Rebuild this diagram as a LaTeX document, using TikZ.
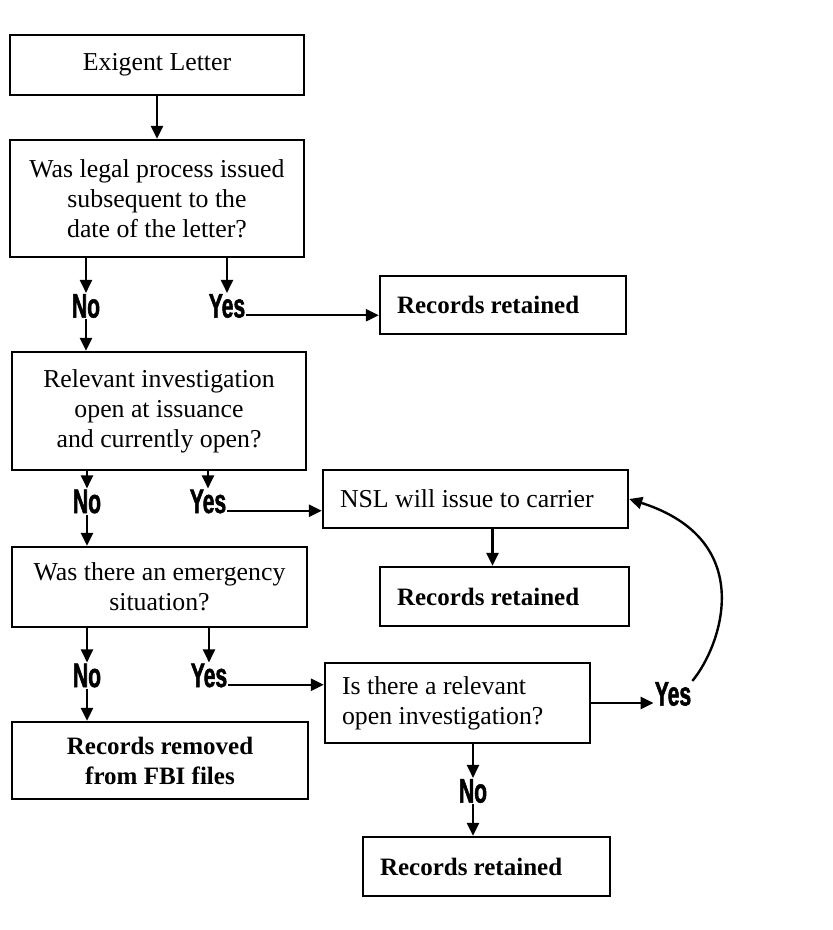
\documentclass[tikz,border=0pt]{standalone}
\usepackage{fontspec}
\setmainfont{Liberation Serif}
\newfontfamily\ynfont[FakeStretch=0.62,FakeBold=1.5]{Liberation Sans}
\usetikzlibrary{calc,arrows.meta}

\begin{document}
\begin{tikzpicture}[%
        x=1pt, y=-1pt,
        line width=2.4pt,
        box/.style={draw, rectangle, inner sep=0pt, align=center,
                    font=\fontsize{25.8}{30}\selectfont},
        lbox/.style={box, align=flush left, inner xsep=17pt},
        strong/.style={font=\fontsize{25}{30}\selectfont\bfseries},
        yn/.style={inner sep=0pt, font=\ynfont\fontsize{34}{34}\selectfont\bfseries},
        flow/.style={-{Triangle[length=13pt,width=12pt]}}
        ]
        \useasboundingbox (0,0) rectangle (833,930);

        \node[box, minimum width=294pt, minimum height=60pt] (letter) at (157,65) {Exigent Letter};
        \node[box, minimum width=294pt, minimum height=117pt] (legal) at (157,198.5)
            {Was legal process issued\\subsequent to the\\date of the letter?};
        \node[lbox, strong, text width=212pt, minimum height=58pt] (kept1) at (503,305) {Records retained};
        \node[box, minimum width=294pt, minimum height=118pt] (open) at (159,411)
            {Relevant investigation\\open at issuance\\and currently open?};
        \node[lbox, text width=271pt, minimum height=58pt] (nsl) at (475.5,499) {NSL will issue to carrier};
        \node[lbox, strong, text width=215pt, minimum height=59pt] (kept2) at (504.5,596.5) {Records retained};
        \node[box, minimum width=295pt, minimum height=80pt] (emerg) at (159.5,587)
            {Was there an emergency\\situation?};
        \node[box, strong, minimum width=296pt, minimum height=77pt] (removed) at (160,760.5)
            {Records removed\\from FBI files};
        \node[lbox, text width=231pt, minimum height=80pt] (relev) at (457.5,703)
            {Is there a relevant\\open investigation?};
        \node[lbox, strong, text width=213pt, minimum height=59pt] (kept3) at (486.5,866.5) {Records retained};

        \node[yn] (no1) at (86,306) {No};
        \node[yn] (yes1) at (227,306) {Yes};
        \node[yn] (no2) at (87,501.5) {No};
        \node[yn] (yes2) at (208,501.5) {Yes};
        \node[yn] (no3) at (87,675.5) {No};
        \node[yn] (yes3) at (209,675.5) {Yes};
        \node[yn] (yes4) at (673,694) {Yes};
        \node[yn] (no4) at (473,791) {No};

        \coordinate (nslout) at ([xshift=17pt]nsl.south);

        \draw[flow] (letter.south) -- (legal.north);
        \draw[flow] (no1 |- legal.south) -- (no1.north);
        \draw[flow] (no1.south) -- (no1 |- open.north);
        \draw[flow] (yes1 |- legal.south) -- (yes1.north);
        \draw[flow] (yes1.mid east) -- (yes1.mid east -| kept1.west);

        \draw[flow] (no2 |- open.south) -- (no2.north);
        \draw[flow] (no2.south) -- (no2 |- emerg.north);
        \draw[flow] (yes2 |- open.south) -- (yes2.north);
        \draw[flow] (yes2.mid east) -- (yes2.mid east -| nsl.west);
        \draw[flow] (nslout) -- (nslout |- kept2.north);

        \draw[flow] (no3 |- emerg.south) -- (no3.north);
        \draw[flow] (no3.south) -- (no3 |- removed.north);
        \draw[flow] (yes3 |- emerg.south) -- (yes3.north);
        \draw[flow] (yes3.mid east) -- (yes3.mid east -| relev.west);

        \draw[flow] (relev.east) -- (relev.east -| yes4.west);
        \draw[flow] (yes4.north east) .. controls (722,645) and (758,540) .. (nsl.east);
        \draw[flow] (no4 |- relev.south) -- (no4.north);
        \draw[flow] (no4.south) -- (no4 |- kept3.north);
    \end{tikzpicture}
\end{document}
